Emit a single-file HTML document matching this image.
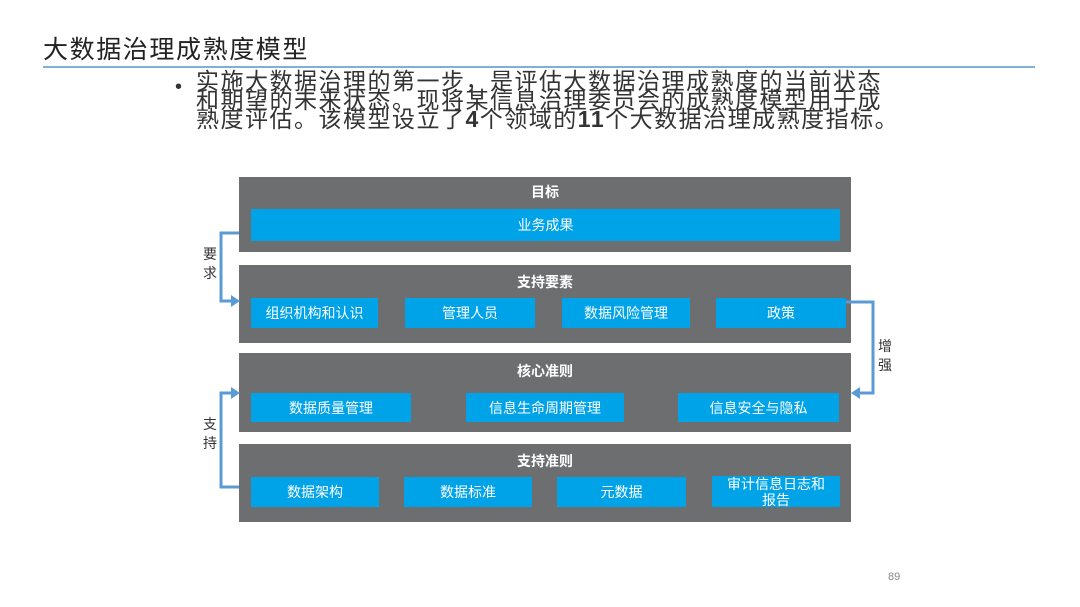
<!DOCTYPE html>
<html><head><meta charset="utf-8"><style>
body{margin:0;width:1080px;height:607px;background:#fff;position:relative;overflow:hidden;font-family:"Liberation Sans","Noto Sans CJK SC",sans-serif}
.a{position:absolute}
.band{position:absolute;left:239px;width:612px;background:#6d6e70}
.t{position:absolute;left:0;width:100%;text-align:center;color:#fff;font-weight:bold;font-size:14px}
.b{position:absolute;background:#00a3e8;color:#fff;font-size:14px;display:flex;align-items:center;justify-content:center;text-align:center;line-height:16px}
.lbl{position:absolute;font-size:14px;color:#333;line-height:19px;width:16px}
</style></head><body>
<div class="a" style="left:43px;top:30px;font-size:25px;letter-spacing:1.6px;color:#222">大数据治理成熟度模型</div>
<div class="a" style="left:43px;top:66px;width:992px;height:2px;background:#7fb0d8"></div>
<div class="a" style="left:175px;top:76px;font-size:20px;color:#333">•</div>
<div class="a" style="left:196px;top:72px;width:720px;font-size:23px;letter-spacing:1.5px;line-height:19px;color:#333;white-space:nowrap">实施大数据治理的第一步，是评估大数据治理成熟度的当前状态<br>和期望的未来状态。现将某信息治理委员会的成熟度模型用于成<br>熟度评估。该模型设立了<b>4</b>个领域的<b>11</b>个大数据治理成熟度指标。</div>

<div class="band" style="top:177px;height:75px"><div class="t" style="top:5px">目标</div>
<div class="b" style="left:12px;top:32px;width:589px;height:32px">业务成果</div></div>
<div class="band" style="top:265px;height:78px"><div class="t" style="top:7px">支持要素</div>
<div class="b" style="left:12px;top:33px;width:127px;height:30px">组织机构和认识</div>
<div class="b" style="left:166px;top:33px;width:130px;height:30px">管理人员</div>
<div class="b" style="left:323px;top:33px;width:128px;height:30px">数据风险管理</div>
<div class="b" style="left:477px;top:33px;width:130px;height:30px">政策</div></div>
<div class="band" style="top:353px;height:79px"><div class="t" style="top:8px">核心准则</div>
<div class="b" style="left:12px;top:40px;width:160px;height:29px">数据质量管理</div>
<div class="b" style="left:227px;top:40px;width:158px;height:29px">信息生命周期管理</div>
<div class="b" style="left:439px;top:40px;width:161px;height:29px">信息安全与隐私</div></div>
<div class="band" style="top:444px;height:78px"><div class="t" style="top:7px">支持准则</div>
<div class="b" style="left:12px;top:33px;width:128px;height:30px">数据架构</div>
<div class="b" style="left:165px;top:33px;width:128px;height:30px">数据标准</div>
<div class="b" style="left:318px;top:33px;width:129px;height:30px">元数据</div>
<div class="b" style="left:473px;top:32px;width:128px;height:31px">审计信息日志和<br>报告</div></div>

<svg class="a" style="left:0;top:0" width="1080" height="607">
<g fill="none" stroke="#5b9bd5" stroke-width="3">
<polyline points="239,233 221,233 221,301 232,301"/>
<polyline points="846,302 873,302 873,393 858,393"/>
<polyline points="239,487 221,487 221,393 232,393"/>
</g>
<g fill="#5b9bd5">
<polygon points="240,301 231,295 231,307"/>
<polygon points="851,393 860,387 860,399"/>
<polygon points="240,393 231,387 231,399"/>
</g></svg>
<div class="lbl" style="left:203px;top:245px">要求</div>
<div class="lbl" style="left:878px;top:337px">增强</div>
<div class="lbl" style="left:203px;top:415px">支持</div>
<div class="a" style="left:888px;top:571px;font-size:11px;color:#888">89</div>
</body></html>
